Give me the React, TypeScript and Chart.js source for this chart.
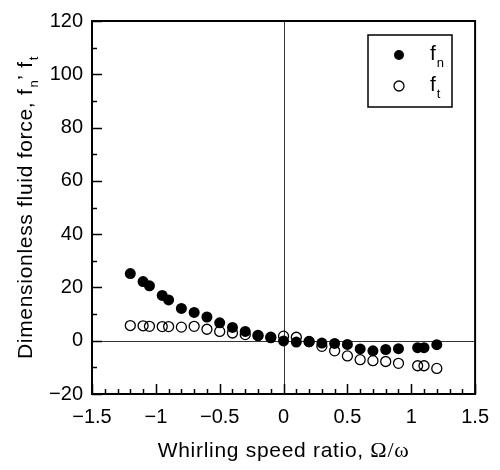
import React, { useEffect, useRef } from "react";
import { Chart, registerables } from "chart.js";

Chart.register(...registerables);

// ---- data ----
const speedRatio = [-1.2, -1.1, -1.05, -0.95, -0.9, -0.8, -0.7, -0.6, -0.5, -0.4, -0.3, -0.2, -0.1, 0, 0.1, 0.2, 0.3, 0.4, 0.5, 0.6, 0.7, 0.8, 0.9, 1.05, 1.1, 1.2];
const fnValues = [25.2, 22.2, 20.6, 17.0, 15.3, 12.1, 10.6, 8.9, 6.7, 5.0, 3.5, 1.9, 1.1, -0.1, -0.5, -0.4, -0.9, -1.0, -1.4, -3.1, -3.8, -3.3, -3.0, -2.6, -2.6, -1.5];
const ftValues = [5.7, 5.6, 5.4, 5.3, 5.3, 5.1, 5.4, 4.3, 3.5, 2.9, 2.3, 2.0, 1.3, 1.7, 1.3, -0.3, -2.1, -3.8, -5.7, -7.1, -7.5, -7.8, -8.5, -9.4, -9.4, -10.4];

const xTickValues = [-1.5, -1, -0.5, 0, 0.5, 1, 1.5];
const yTickValues = [-20, 0, 20, 40, 60, 80, 100, 120];
const xMinorStep = 0.1;
const yMinorStep = 10;

const xTitle = "Whirling speed ratio, ";
const xTitleGreek = "Ω/ω";
const yTitleMain = "Dimensionless fluid force, f";
const legendMain = "f";
const legendSubs = ["n", "t"];

const FONT = "'Liberation Sans', Arial, sans-serif";
const SPACING = "0.7px";

const fmt = (v: number) => String(v).replace("-", "\u2212");

const decorPlugin = {
  id: "decor",
  beforeDatasetsDraw(chart: any) {
    const { ctx, chartArea: a, scales } = chart;
    const x = scales.x;
    const y = scales.y;
    ctx.save();
    ctx.strokeStyle = "#333";
    ctx.lineWidth = 1;
    const y0 = Math.round(y.getPixelForValue(0)) + 0.5;
    const x0 = Math.round(x.getPixelForValue(0)) + 0.5;
    ctx.beginPath();
    ctx.moveTo(a.left, y0);
    ctx.lineTo(a.right, y0);
    ctx.moveTo(x0, a.top);
    ctx.lineTo(x0, a.bottom);
    ctx.stroke();
    ctx.restore();
  },
  afterDatasetsDraw(chart: any) {
    const { ctx, chartArea: a, scales } = chart;
    const x = scales.x;
    const y = scales.y;
    ctx.save();
    // frame
    ctx.strokeStyle = "#000";
    ctx.lineWidth = 2;
    ctx.strokeRect(a.left, a.top, a.right - a.left, a.bottom - a.top);
    // inward ticks
    ctx.lineWidth = 1.5;
    ctx.beginPath();
    const yMin = y.min, yMax = y.max;
    const ny = Math.round((yMax - yMin) / yMinorStep);
    for (let i = 0; i <= ny; i++) {
      const v = yMin + i * yMinorStep;
      const major = yTickValues.includes(v);
      const py = Math.round(y.getPixelForValue(v)) + 0.5;
      ctx.moveTo(a.left, py);
      ctx.lineTo(a.left + (major ? 10 : 5), py);
    }
    const xMin = x.min, xMax = x.max;
    const nx = Math.round((xMax - xMin) / xMinorStep);
    for (let i = 0; i <= nx; i++) {
      const v = Math.round((xMin + i * xMinorStep) * 10) / 10;
      const major = xTickValues.includes(v);
      const px = Math.round(x.getPixelForValue(v)) + 0.5;
      ctx.moveTo(px, a.bottom);
      ctx.lineTo(px, a.bottom - (major ? 10 : 5));
    }
    ctx.stroke();

    // legend
    const lx = 368, ly = 35, lw = 84, lh = 72;
    ctx.lineWidth = 1.5;
    ctx.strokeRect(lx, ly, lw, lh);
    const rows = [55, 86];
    rows.forEach((ry, i) => {
      ctx.beginPath();
      ctx.arc(399, ry, 5, 0, Math.PI * 2);
      if (i === 0) {
        ctx.fillStyle = "#000";
        ctx.fill();
      } else {
        ctx.lineWidth = 1.3;
        ctx.stroke();
      }
      ctx.fillStyle = "#000";
      ctx.textAlign = "left";
      ctx.textBaseline = "alphabetic";
      ctx.font = `21px ${FONT}`;
      ctx.fillText(legendMain, 430, ry + 5);
      const w = ctx.measureText(legendMain).width;
      ctx.font = `13px ${FONT}`;
      ctx.fillText(legendSubs[i], 430 + w + 1, ry + 12);
    });

    // x title
    (ctx as any).letterSpacing = SPACING;
    ctx.fillStyle = "#000";
    ctx.textBaseline = "alphabetic";
    ctx.font = `21px ${FONT}`;
    const w1 = ctx.measureText(xTitle).width;
    ctx.font = `22px 'Liberation Serif', serif`;
    const w2 = ctx.measureText(xTitleGreek).width;
    const cx = (a.left + a.right) / 2;
    const sx = cx - (w1 + w2) / 2;
    ctx.font = `21px ${FONT}`;
    ctx.textAlign = "left";
    ctx.fillText(xTitle, sx, 457);
    ctx.font = `22px 'Liberation Serif', serif`;
    ctx.fillText(xTitleGreek, sx + w1, 457);

    // y title (rotated)
    ctx.save();
    const cy = (a.top + a.bottom) / 2;
    ctx.translate(32, cy);
    ctx.rotate(-Math.PI / 2);
    const big = `21px ${FONT}`;
    const small = `13px ${FONT}`;
    const parts: [string, string, number][] = [
      [yTitleMain, big, 0],
      ["n", small, 6],
      ["\u2019 f", big, 0],
      ["t", small, 6],
    ];
    let total = 0;
    parts.forEach(([t, f]) => {
      ctx.font = f;
      total += ctx.measureText(t).width + (f === small ? 1 : 0);
    });
    let px = -total / 2;
    parts.forEach(([t, f, dy]) => {
      ctx.font = f;
      if (f === small) px += 1;
      ctx.fillText(t, px, dy);
      px += ctx.measureText(t).width;
    });
    ctx.restore();

    ctx.restore();
  },
};

export default function App() {
  const ref = useRef<HTMLCanvasElement | null>(null);
  useEffect(() => {
    if (!ref.current) return;
    const chart = new Chart(ref.current, {
      type: "scatter",
      data: {
        datasets: [
          {
            label: "fn",
            data: speedRatio.map((v, i) => ({ x: v, y: fnValues[i] })),
            pointRadius: 5.5,
            pointBackgroundColor: "#000",
            pointBorderColor: "#000",
            pointBorderWidth: 0,
            showLine: false,
          },
          {
            label: "ft",
            data: speedRatio.map((v, i) => ({ x: v, y: ftValues[i] })),
            pointRadius: 5,
            pointBackgroundColor: "rgba(0,0,0,0)",
            pointBorderColor: "#000",
            pointBorderWidth: 1.3,
            showLine: false,
          },
        ],
      },
      options: {
        animation: false,
        responsive: false,
        devicePixelRatio: 1,
        layout: { padding: { top: 13, right: 24, left: 0, bottom: 0 } },
        plugins: { legend: { display: false }, tooltip: { enabled: false } },
        scales: {
          x: {
            type: "linear",
            min: -1.5,
            max: 1.5,
            afterFit: (s: any) => { s.height = 76; },
            afterBuildTicks: (s: any) => { s.ticks = xTickValues.map((v) => ({ value: v })); },
            grid: { display: false, drawTicks: false },
            border: { display: false },
            ticks: {
              color: "#000",
              padding: 11,
              maxRotation: 0,
              font: { family: FONT, size: 20 },
              callback: (v: any) => fmt(Number(v)),
            },
          },
          y: {
            type: "linear",
            min: -20,
            max: 120,
            afterFit: (s: any) => { s.width = 92; },
            afterBuildTicks: (s: any) => { s.ticks = yTickValues.map((v) => ({ value: v })); },
            grid: { display: false, drawTicks: false },
            border: { display: false },
            ticks: {
              color: "#000",
              padding: 9,
              font: { family: FONT, size: 20 },
              callback: (v: any) => fmt(Number(v)),
            },
          },
        },
      },
      plugins: [decorPlugin],
    });
    return () => chart.destroy();
  }, []);
  return (
    <div style={{ position: "absolute", left: 0, top: 0, width: 500, height: 470, background: "#fff" }}>
      <canvas ref={ref} width={500} height={470} style={{ display: "block" }} />
    </div>
  );
}
